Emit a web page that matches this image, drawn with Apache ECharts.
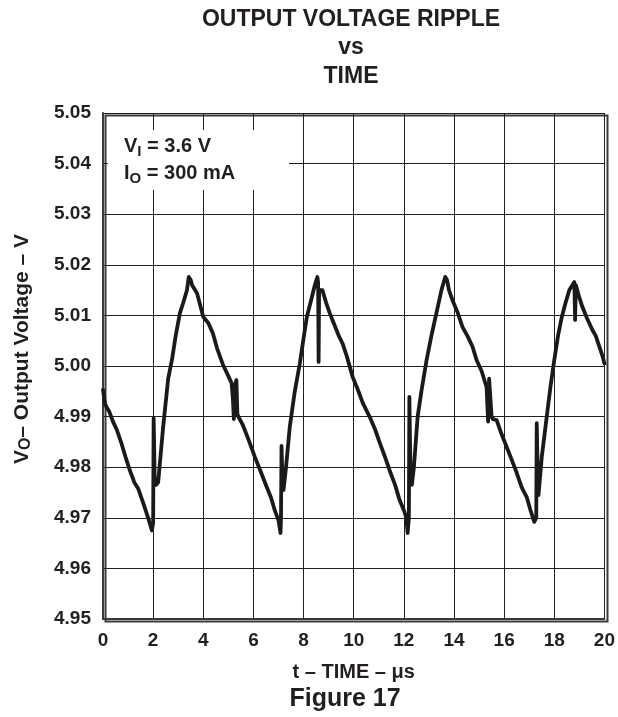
<!DOCTYPE html>
<html>
<head>
<meta charset="utf-8">
<script src="https://cdn.jsdelivr.net/npm/echarts@6/dist/echarts.min.js"></script>
<style>
html,body{margin:0;padding:0;background:#fff;}
#c{width:618px;height:717px;}
</style>
</head>
<body>
<div id="c"></div>
<script>
// ---- data ----
const timeUs = [
  0.00,0.08,0.15,0.25,0.40,0.55,0.75,0.90,1.07,1.25,1.40,1.60,1.80,1.95,2.00,2.02,2.06,2.12,2.20,2.40,
  2.60,2.75,2.90,3.07,3.20,3.35,3.42,3.50,3.55,3.75,4.00,4.20,4.38,4.55,4.78,5.00,5.13,5.18,5.22,5.26,
  5.32,5.36,5.40,5.58,5.80,6.06,6.30,6.53,6.70,6.85,7.00,7.08,7.10,7.12,7.16,7.20,7.30,7.45,7.65,7.85,
  8.00,8.13,8.30,8.45,8.55,8.58,8.60,8.62,8.75,8.90,9.04,9.20,9.40,9.55,9.72,9.96,10.15,10.36,10.64,10.85,
  11.04,11.25,11.43,11.65,11.83,12.00,12.10,12.15,12.20,12.22,12.26,12.32,12.40,12.55,12.70,12.90,13.10,13.30,13.50,13.65,
  13.72,13.80,13.94,14.15,14.34,14.55,14.74,14.90,15.10,15.30,15.36,15.40,15.45,15.50,15.55,15.70,15.90,16.10,16.30,16.50,
  16.70,16.90,17.05,17.20,17.28,17.30,17.34,17.37,17.50,17.70,17.85,18.00,18.15,18.30,18.45,18.60,18.80,18.83,18.86,19.00,
  19.12,19.30,19.52,19.65,19.80,19.92,20.00
];
const voltageV = [
  4.9953,4.9925,4.9918,4.9910,4.9890,4.9874,4.9845,4.9820,4.9794,4.9770,4.9758,4.9730,4.9700,4.9675,4.9690,4.9897,4.9780,4.9765,4.9770,4.9880,
  4.9975,5.0012,5.0060,5.0105,5.0125,5.0150,5.0176,5.0170,5.0160,5.0144,5.0097,5.0085,5.0065,5.0035,5.0003,4.9980,4.9966,4.9935,4.9895,4.9960,
  4.9972,4.9905,4.9900,4.9883,4.9855,4.9820,4.9790,4.9761,4.9740,4.9715,4.9695,4.9670,4.9700,4.9842,4.9770,4.9755,4.9800,4.9880,4.9950,5.0005,
  5.0055,5.0097,5.0130,5.0160,5.0176,5.0165,5.0008,5.0150,5.0150,5.0125,5.0105,5.0085,5.0060,5.0045,5.0020,4.9978,4.9955,4.9927,4.9899,4.9875,
  4.9848,4.9820,4.9794,4.9765,4.9735,4.9715,4.9700,4.9670,4.9700,4.9939,4.9800,4.9765,4.9800,4.9900,4.9950,5.0010,5.0060,5.0105,5.0150,5.0176,
  5.0170,5.0150,5.0130,5.0105,5.0077,5.0058,5.0038,5.0012,4.9990,4.9958,4.9890,4.9975,4.9978,4.9900,4.9895,4.9893,4.9865,4.9840,4.9815,4.9789,
  4.9760,4.9741,4.9715,4.9692,4.9700,4.9887,4.9780,4.9745,4.9820,4.9900,4.9960,5.0012,5.0060,5.0097,5.0125,5.0150,5.0166,5.0091,5.0160,5.0135,
  5.0117,5.0095,5.0071,5.0060,5.0038,5.0020,5.0005
];
const xTicks = [0,2,4,6,8,10,12,14,16,18,20];
const yTicks = ['4.95','4.96','4.97','4.98','4.99','5.00','5.01','5.02','5.03','5.04','5.05'];
const titleLines = ['OUTPUT VOLTAGE RIPPLE','vs','TIME'];
const xName = 't – TIME – μs';
const figLabel = 'Figure 17';

// ---- chart ----
const FONT = '"Liberation Sans", Arial, Helvetica, sans-serif';
const INK = '#231f20';
const chart = echarts.init(document.getElementById('c'), null, {renderer:'canvas'});
const points = timeUs.map((t,i)=>[t, voltageV[i]]);

chart.setOption({
  animation:false,
  backgroundColor:'#fff',
  title:[
    {text:titleLines.join('\n'), left:351, top:5, padding:0, textAlign:'center',
     textStyle:{fontFamily:FONT, fontWeight:'bold', fontSize:23, color:INK, lineHeight:28.5}},
    {text:figLabel, left:345, top:687, padding:0, textAlign:'center',
     textStyle:{fontFamily:FONT, fontWeight:'bold', fontSize:25, color:INK}}
  ],
  grid:{left:103, top:113, width:502, height:506, containLabel:false},
  xAxis:{
    type:'value', min:0, max:20, interval:2,
    name:xName, nameLocation:'middle', nameGap:43,
    nameTextStyle:{fontFamily:FONT, fontWeight:'bold', fontSize:20, color:INK},
    axisLine:{show:true, lineStyle:{color:'#3a3a3a', width:2}},
    axisTick:{show:false},
    axisLabel:{fontFamily:FONT, fontWeight:'bold', fontSize:19, color:INK, margin:12,
      formatter:v=> xTicks.includes(v)? String(v):''},
    splitLine:{show:true, lineStyle:{color:INK, width:1}}
  },
  yAxis:{
    type:'value', min:4.95, max:5.05, interval:0.01,
    axisLine:{show:true, lineStyle:{color:'#3a3a3a', width:2}},
    axisTick:{show:false},
    axisLabel:{fontFamily:FONT, fontWeight:'bold', fontSize:19, color:INK, margin:12,
      formatter:v=>{ const i=Math.round((v-4.95)/0.01); return yTicks[i]||''; }},
    splitLine:{show:true, lineStyle:{color:INK, width:1}}
  },
  graphic:[
    {type:'rect', left:103, top:113, shape:{width:502, height:506}, silent:true, z:-1,
     style:{fill:'none', stroke:'#3a3a3a', lineWidth:2}},
    {type:'rect', left:108, top:130, shape:{width:181, height:60}, z:10,
     style:{fill:'#fff'}},
    {type:'text', left:124, top:136, z:11,
     style:{text:'{b|V}{s|I}{b| = 3.6 V}\n{b|I}{s|O}{b| = 300 mA}', fill:INK,
       rich:{b:{fontFamily:FONT, fontWeight:'bold', fontSize:20, lineHeight:27, fill:INK},
             s:{fontFamily:FONT, fontWeight:'bold', fontSize:15, lineHeight:27, verticalAlign:'bottom', padding:[7,0,0,0], fill:INK}}}},
    {type:'text', x:22, y:349, rotation:Math.PI/2, z:11,
     style:{text:'{b|V}{s|O}{b|– Output Voltage – V}', align:'center', verticalAlign:'middle', fill:INK,
       rich:{b:{fontFamily:FONT, fontWeight:'bold', fontSize:21, lineHeight:24, fill:INK},
             s:{fontFamily:FONT, fontWeight:'bold', fontSize:16, lineHeight:24, verticalAlign:'bottom', padding:[7,0,0,0], fill:INK}}}}
  ],
  series:[{
    type:'line', data:points, showSymbol:false, smooth:false,
    lineStyle:{color:'#1a1a1a', width:3.8, join:'round', cap:'round'}
  }]
});
</script>
</body>
</html>
